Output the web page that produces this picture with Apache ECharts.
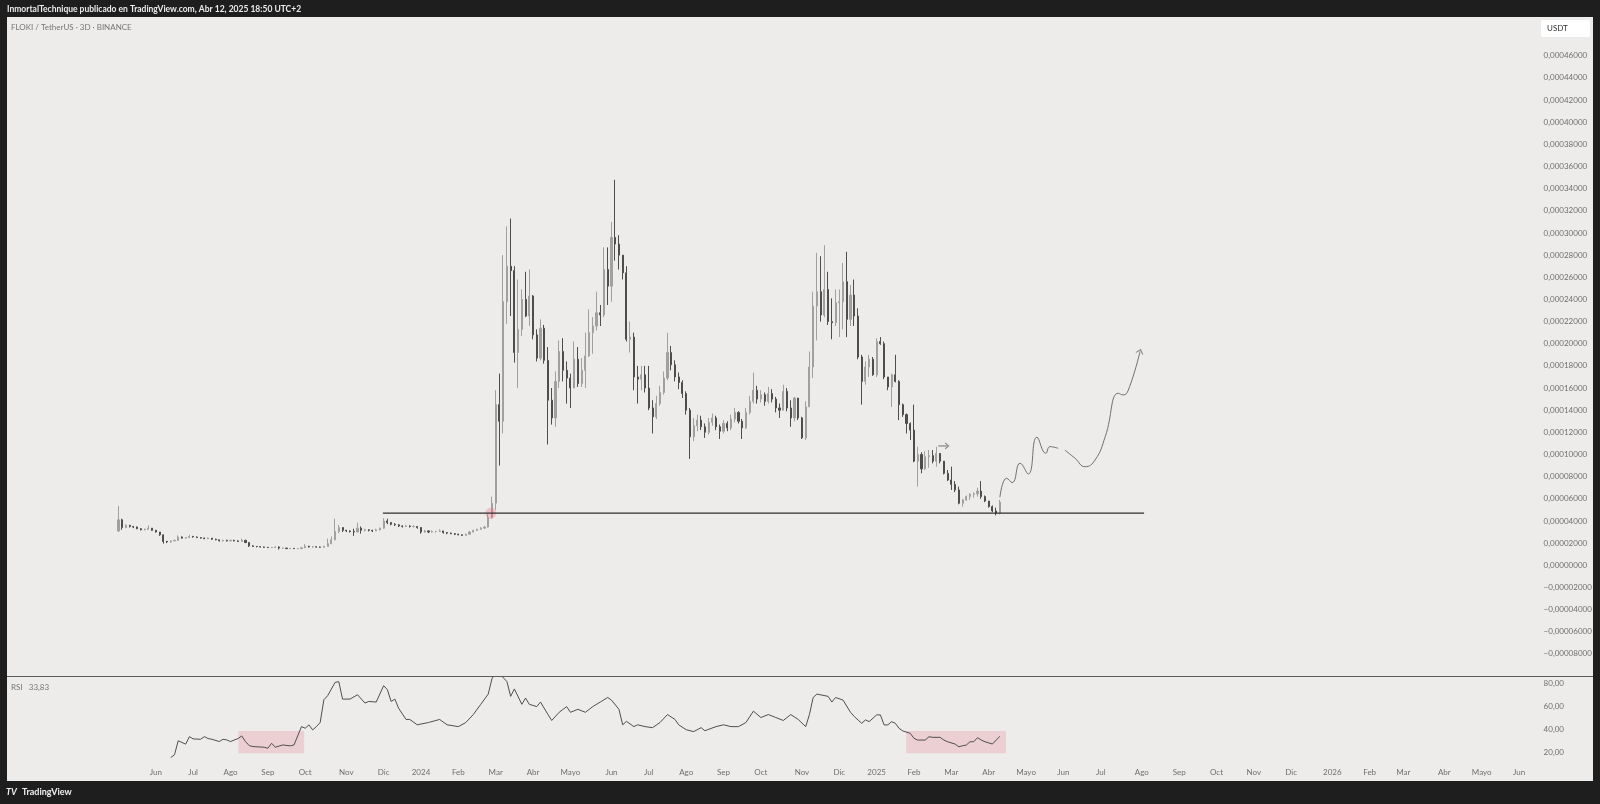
<!DOCTYPE html>
<html>
<head>
<meta charset="utf-8">
<title>FLOKI / TetherUS · 3D · BINANCE</title>
<script src="https://cdn.jsdelivr.net/npm/echarts@6/dist/echarts.min.js"></script>
<style>
  html, body { margin: 0; padding: 0; background: #1e1e1e; }
  #chart { width: 1600px; height: 804px; }
</style>
</head>
<body>
<div id="chart"></div>
<script>
// velas de 3 dias desde el 3 may 2023; precios en unidades de 0,00001 USDT
const START = Date.UTC(2023, 4, 3);
const STEP_DAYS = 3;
const SLOTS = 381; // huecos de vela hasta jun 2026 (zona vacia a la derecha)

const firstOpen = 3.1;
const closes = [
  4.1,3.4,3.6,3.5,3.45,3.3,3.2,3.25,3.35,3.15,
  3.0,2.75,2.15,2.1,2.2,2.25,2.55,2.45,2.5,2.6,
  2.55,2.5,2.45,2.4,2.45,2.35,2.3,2.2,2.25,2.2,
  2.25,2.2,2.15,2.25,2.05,1.75,1.7,1.68,1.65,1.62,
  1.6,1.6,1.65,1.55,1.55,1.5,1.52,1.5,1.5,1.58,
  1.72,1.65,1.67,1.64,1.63,1.7,1.95,2.3,3.05,3.4,
  3.15,3.1,3.05,3.0,3.35,3.15,3.2,3.15,3.1,3.2,
  3.35,4.0,3.85,3.7,3.65,3.55,3.5,3.55,3.5,3.5,
  3.4,3.0,3.1,3.0,3.05,3.05,3.1,2.95,2.9,2.85,
  2.8,2.75,2.7,2.8,3.0,3.15,3.25,3.35,3.45,4.3,
  5.6,14.5,13.0,23.8,27.0,26.6,19.2,21.3,24.0,22.5,
  24.3,20.8,18.7,21.4,18.5,14.9,13.3,16.6,19.3,17.6,
  16.9,16.0,18.6,16.4,17.6,18.9,21.0,21.6,22.8,22.6,
  26.7,25.2,29.6,29.0,28.0,26.4,20.4,20.6,17.0,16.8,
  17.2,16.0,14.2,13.4,14.6,15.6,16.9,19.2,18.1,17.0,
  16.5,15.5,14.0,11.6,12.6,13.1,12.5,12.0,12.9,13.3,
  12.5,12.1,12.8,12.4,13.2,13.8,13.0,12.4,13.8,14.8,
  15.8,15.0,15.4,14.8,15.5,15.0,14.2,14.0,15.7,14.2,
  13.3,15.1,13.3,11.5,14.3,17.9,23.4,24.7,22.6,24.9,
  22.0,21.9,23.7,23.8,25.6,22.2,24.4,22.5,18.8,16.6,
  17.9,18.6,17.2,20.2,20.0,17.0,16.1,17.2,16.6,14.5,
  13.6,12.8,12.2,9.4,10.0,8.7,9.8,9.9,9.4,10.1,
  9.4,8.3,7.7,7.3,6.8,5.6,5.9,6.2,6.4,6.45,
  6.7,6.2,5.8,5.3,4.9,4.7,5.7
];
const highs = [
  5.35,4.2,3.7,3.65,3.55,3.5,3.35,3.3,3.6,3.35,
  3.2,3.0,2.75,2.2,2.25,2.3,2.7,2.6,2.55,2.75,
  2.65,2.6,2.5,2.5,2.5,2.45,2.4,2.3,2.3,2.3,
  2.3,2.3,2.25,2.4,2.3,2.05,1.8,1.72,1.7,1.68,
  1.65,1.66,1.7,1.7,1.6,1.57,1.56,1.55,1.55,1.62,
  1.9,1.75,1.72,1.7,1.68,1.75,2.4,2.6,4.2,3.65,
  3.45,3.2,3.15,3.3,3.85,3.5,3.3,3.25,3.2,3.3,
  3.4,4.25,4.2,3.9,3.8,3.7,3.6,3.65,3.6,3.6,
  3.55,3.45,3.2,3.15,3.15,3.1,3.25,3.1,3.0,2.95,
  2.9,2.85,2.78,2.85,3.1,3.2,3.3,3.45,3.55,4.6,
  6.2,15.8,17.3,28.0,30.6,31.3,27.0,25.8,24.9,26.5,
  26.7,24.4,21.3,22.2,21.7,19.7,16.0,17.5,20.3,20.5,
  18.4,17.3,20.2,19.7,18.7,21.0,23.1,22.4,24.7,23.5,
  28.7,28.7,31.0,34.8,29.8,28.0,27.0,22.0,21.0,18.0,
  18.0,18.0,18.0,14.9,15.3,16.2,17.5,21.0,19.8,18.5,
  17.4,16.7,15.7,14.2,13.3,13.6,13.5,12.8,13.3,13.7,
  13.5,12.7,13.1,13.0,13.6,14.2,13.9,13.2,14.2,15.3,
  17.4,16.2,15.8,15.6,16.1,15.9,15.2,14.6,16.3,16.0,
  14.9,15.2,14.7,13.4,14.8,19.3,24.7,28.2,27.9,28.9,
  26.5,24.1,24.9,24.9,27.3,28.3,25.3,25.8,23.2,19.0,
  18.4,19.0,18.8,20.5,20.6,20.2,17.0,17.3,19.0,16.7,
  14.6,13.7,12.9,14.5,10.7,10.2,10.3,10.4,10.4,10.7,
  10.1,9.4,8.6,8.9,7.6,7.1,6.0,6.3,6.5,6.6,
  7.0,7.6,6.3,5.8,5.4,5.2,5.9
];
const lows = [
  3.0,3.2,3.35,3.4,3.35,3.25,3.15,3.15,3.2,3.1,
  2.95,2.65,1.95,2.0,2.05,2.15,2.2,2.4,2.4,2.45,
  2.5,2.45,2.4,2.35,2.35,2.3,2.25,2.15,2.15,2.15,
  2.15,2.15,2.1,2.1,2.0,1.65,1.65,1.62,1.6,1.58,
  1.55,1.55,1.57,1.42,1.5,1.46,1.46,1.46,1.45,1.48,
  1.55,1.6,1.6,1.6,1.58,1.6,1.68,1.9,2.25,2.9,
  3.0,3.0,2.95,2.65,3.0,2.85,3.05,3.05,3.0,3.1,
  3.15,3.3,3.7,3.6,3.55,3.45,3.4,3.45,3.4,3.4,
  3.3,2.85,2.95,2.9,2.95,2.95,3.0,2.85,2.8,2.8,
  2.72,2.7,2.65,2.68,2.78,2.95,3.1,3.2,3.3,3.4,
  4.2,5.0,9.0,11.9,21.8,22.5,18.3,16.0,20.7,22.4,
  21.6,20.4,18.4,18.5,18.2,10.9,12.7,12.5,16.0,16.6,
  14.6,14.2,16.0,16.1,16.1,16.0,18.8,19.1,21.2,21.6,
  22.4,23.5,23.8,27.5,26.7,25.8,20.2,19.2,15.8,14.6,
  15.8,15.6,14.0,11.9,13.2,14.4,15.4,16.7,17.6,16.6,
  15.9,15.1,13.6,9.6,11.2,12.1,12.2,11.5,11.8,12.6,
  12.2,11.4,11.9,12.1,12.2,12.9,12.8,11.4,12.3,13.6,
  14.6,14.6,14.7,14.4,14.6,14.7,13.8,13.3,14.0,13.9,
  12.5,13.0,13.1,11.4,11.3,14.3,16.9,20.3,22.0,22.4,
  21.7,20.4,21.6,20.6,21.3,20.6,21.6,21.6,18.6,14.5,
  16.3,17.0,17.1,17.0,19.9,16.8,15.8,14.3,16.5,13.1,
  13.4,11.9,11.3,9.3,7.1,8.3,8.6,8.8,9.2,8.9,
  9.2,8.2,7.6,6.8,6.6,5.5,5.3,5.8,5.9,6.1,
  6.2,6.0,5.7,5.2,4.8,4.5,4.6
];

const rsiPoints = [
  [14,15.2],[15,17.7],[16,30],[18,27],[19,33.6],[20,31.6],[22,31.3],[23,33.6],[24,31.9],[25,31.3],
  [27,29.3],[28,31.3],[29,30.7],[30,29.3],[32,31.9],[33,34.2],[34,29.3],[35,25.7],[36,24.9],[39,24.3],
  [40,23.4],[41,27.8],[42,24.3],[44,26.3],[46,25.5],[47,26.3],[49,42.4],[50,41],[51,43.9],[52,39.5],
  [53,42.4],[54,46],[55,66],[56,69.5],[58,81.3],[59,81.9],[60,66.6],[62,66.6],[64,70.4],[66,63.1],
  [67,64.5],[69,64],[71,78.4],[72,74.9],[73,64.5],[74,66.6],[75,58.6],[77,48.7],[78,48.7],[80,44],
  [83,46],[86,48.7],[88,44],[91,42.4],[93,46],[95,53],[97,62],[99,71],[100,84.5],[101,90],
  [102,89],[104,82],[105,69],[106,75.5],[108,62],[109,67.5],[110,62],[112,60],[113,64],[115,53],
  [116,47.8],[118,55],[120,60],[121,55],[123,57.6],[125,55],[127,60],[129,64],[131,68],[132,65.7],
  [134,57.6],[135,44],[136,47],[138,42.4],[139,44],[141,42.4],[143,41.5],[145,46],[147,53],[149,48.7],
  [150,44],[152,39.7],[154,38],[156,41.5],[157,38.8],[160,42.4],[162,44],[164,42.4],[166,42.4],[168,46],
  [170,56],[172,50.4],[174,53],[176,50.4],[178,47.8],[180,53],[182,48.7],[184,42.4],[185,53],[186,68],
  [187,71],[190,69],[191,64],[192,68],[194,65.7],[196,55],[197,51.3],[199,45.3],[200,48.3],[201,46.8],
  [203,52.7],[204,52.7],[205,43.9],[206,43.9],[207,46.8],[208,45.3],[209,40.9],[210,38.6],[212,36.5],[213,32.1],
  [214,30.6],[216,30.6],[217,33.5],[218,33],[220,33],[221,30.6],[222,29.1],[224,27.1],[225,24.7],[226,25.6],
  [227,26.2],[228,29.1],[229,29.1],[230,32.7],[231,30.6],[232,29.1],[234,27.1],[235,30.6],[236,33.83]
];

// dibujos del autor (posiciones en indice de vela, precio en 0,00001)
const supportLevel = { from: 70.8, to: 274.6, price: 4.7 };
const projectionA = [[236.0,6.14],[237.8,7.86],[239.3,7.46],[241.4,9.21],[243.6,8.24],[245.9,11.56],[248.3,10.11],[249.4,10.71],[251.6,10.56]];
const projectionB = [[253.4,10.4],[256.1,9.66],[258.8,8.9],[261.5,9.51],[264.2,11.61],[267.7,15.53],[269.0,15.38],[270.4,15.83],[273.5,19.29]];
const smallArrow = [[219.5,10.77],[221.8,10.77]];
const breakoutMark = [99.7, 4.7];
const rsiZones = [[32.1, 49.7, 19, 38.5], [210.9, 237.6, 19, 38.5]];

const timeTickLabels = ['Jun','Jul','Ago','Sep','Oct','Nov','Dic','2024','Feb','Mar','Abr','Mayo',
  'Jun','Jul','Ago','Sep','Oct','Nov','Dic','2025','Feb','Mar','Abr','Mayo',
  'Jun','Jul','Ago','Sep','Oct','Nov','Dic','2026','Feb','Mar','Abr','Mayo','Jun'];

const DAY = 86400000;
const categories = [];
for (let i = 0; i < SLOTS; i++) {
  categories.push(new Date(START + i * STEP_DAYS * DAY).toISOString().slice(0, 10));
}
const tickAt = new Map();
timeTickLabels.forEach((lab, k) => {
  const t = Date.UTC(2023, 5 + k, 1);
  tickAt.set(Math.round((t - START) / (STEP_DAYS * DAY)), lab);
});

const candles = closes.map((c, i) => [i === 0 ? firstOpen : closes[i - 1], c, lows[i], highs[i]]);

const fmtPrice = v => {
  const s = (Math.abs(v) * 1e-5).toFixed(8).replace('.', ',');
  return v < -1e-9 ? '\u2212' + s : s;
};

const FONT = 'Lato, "Noto Sans", sans-serif';
const LABEL = '#6f6f6f';
const chevron = 'path://M0,10L5,0L10,10';

const chart = echarts.init(document.getElementById('chart'));
chart.setOption({
  animation: false,
  backgroundColor: 'transparent',
  grid: [
    { left: 116.6, right: 60.4, top: 17, height: 659 },
    { left: 116.6, right: 60.4, top: 677, height: 86.5 }
  ],
  xAxis: [
    { type: 'category', gridIndex: 0, data: categories, boundaryGap: true,
      axisLine: { show: false }, axisTick: { show: false }, axisLabel: { show: false }, splitLine: { show: false } },
    { type: 'category', gridIndex: 1, data: categories, boundaryGap: true,
      axisLine: { show: false }, axisTick: { show: false }, splitLine: { show: false },
      axisLabel: {
        color: LABEL, fontSize: 8, fontFamily: FONT, margin: 5,
        interval: idx => tickAt.has(idx),
        formatter: (val, idx) => tickAt.get(idx) || ''
      } },
    { type: 'value', gridIndex: 0, min: -0.5, max: SLOTS - 0.5, show: false },
    { type: 'value', gridIndex: 1, min: -0.5, max: SLOTS - 0.5, show: false }
  ],
  yAxis: [
    { type: 'value', gridIndex: 0, position: 'right', min: -10, max: 49.5, interval: 2,
      axisLine: { show: false }, axisTick: { show: false }, splitLine: { show: false },
      axisLabel: { color: LABEL, fontSize: 8, fontFamily: FONT, align: 'left', margin: 4,
        showMinLabel: false, showMaxLabel: false,
        formatter: v => (v > 47 || v < -9) ? '' : fmtPrice(v) } },
    { type: 'value', gridIndex: 1, position: 'right', min: 10, max: 86, interval: 10,
      axisLine: { show: false }, axisTick: { show: false }, splitLine: { show: false },
      axisLabel: { color: LABEL, fontSize: 8, fontFamily: FONT, align: 'left', margin: 4,
        formatter: v => (v % 20 === 0 && v >= 20 && v <= 80) ? v.toFixed(2).replace('.', ',') : '' } }
  ],
  series: [
    {
      type: 'candlestick', xAxisIndex: 0, yAxisIndex: 0, data: candles, barWidth: 1.6,
      itemStyle: { color: '#a0a0a0', color0: '#4d4d4d', borderColor: '#a0a0a0', borderColor0: '#4d4d4d', borderWidth: 1 }
    },
    {
      type: 'line', xAxisIndex: 2, yAxisIndex: 0, symbol: 'none', silent: true,
      data: [[supportLevel.from, supportLevel.price], [supportLevel.to, supportLevel.price]],
      lineStyle: { color: '#2e2e2e', width: 1.2 }
    },
    {
      type: 'line', xAxisIndex: 2, yAxisIndex: 0, symbol: 'none', smooth: 0.5, silent: true,
      data: projectionA, lineStyle: { color: '#707070', width: 1 }
    },
    {
      type: 'line', xAxisIndex: 2, yAxisIndex: 0, symbol: 'none', smooth: 0.5, silent: true,
      data: projectionB, lineStyle: { color: '#707070', width: 1 }
    },
    {
      type: 'line', xAxisIndex: 2, yAxisIndex: 0, symbol: 'none', silent: true,
      data: smallArrow, lineStyle: { color: '#707070', width: 1 }
    },
    {
      type: 'scatter', xAxisIndex: 2, yAxisIndex: 0, silent: true,
      data: [
        { value: projectionB[projectionB.length - 1], symbol: chevron, symbolSize: [7, 4], symbolRotate: -17 },
        { value: smallArrow[1], symbol: chevron, symbolSize: [6, 3.5], symbolRotate: -90 }
      ],
      itemStyle: { color: 'transparent', borderColor: '#707070', borderWidth: 1 }
    },
    {
      type: 'scatter', xAxisIndex: 2, yAxisIndex: 0, silent: true,
      data: [breakoutMark], symbolSize: 11,
      itemStyle: { color: 'rgba(240,105,120,0.4)' }
    },
    {
      type: 'line', xAxisIndex: 3, yAxisIndex: 1, symbol: 'none', silent: true,
      data: rsiPoints, lineStyle: { color: '#4f4f4f', width: 1 },
      markArea: {
        silent: true,
        itemStyle: { color: 'rgba(236,120,138,0.25)' },
        data: rsiZones.map(z => [{ coord: [z[0], z[3]] }, { coord: [z[1], z[2]] }])
      }
    }
  ],
  graphic: [
    { type: 'rect', z: -10, silent: true, shape: { x: 7, y: 17, width: 1586, height: 764 }, style: { fill: '#edecea' } },
    { type: 'line', silent: true, shape: { x1: 7, y1: 676.5, x2: 1593, y2: 676.5 }, style: { stroke: '#5c5c5c', lineWidth: 1.2 } },
    { type: 'text', x: 7, y: 9, silent: true,
      style: { text: 'InmortalTechnique publicado en TradingView.com, Abr 12, 2025 18:50 UTC+2', fill: '#ececec',
        font: 'bold 8.5px ' + FONT, verticalAlign: 'middle' } },
    { type: 'text', x: 11, y: 27, silent: true,
      style: { text: 'FLOKI / TetherUS · 3D · BINANCE', fill: '#777', font: '8px ' + FONT, verticalAlign: 'middle' } },
    { type: 'rect', silent: true, shape: { x: 1541, y: 20, width: 49, height: 17, r: 2 }, style: { fill: '#ffffff' } },
    { type: 'text', x: 1547, y: 28.5, silent: true,
      style: { text: 'USDT', fill: '#333', font: '8px ' + FONT, verticalAlign: 'middle' } },
    { type: 'text', x: 11, y: 687, silent: true,
      style: { text: 'RSI   33,83', fill: '#777', font: '8px ' + FONT, verticalAlign: 'middle' } },
    { type: 'text', x: 6, y: 792, silent: true,
      style: { text: 'TV', fill: '#f0f0f0', font: 'bold italic 9px ' + FONT, verticalAlign: 'middle' } },
    { type: 'text', x: 22, y: 792, silent: true,
      style: { text: 'TradingView', fill: '#f0f0f0', font: 'bold 9px ' + FONT, verticalAlign: 'middle' } }
  ]
});
</script>
</body>
</html>
